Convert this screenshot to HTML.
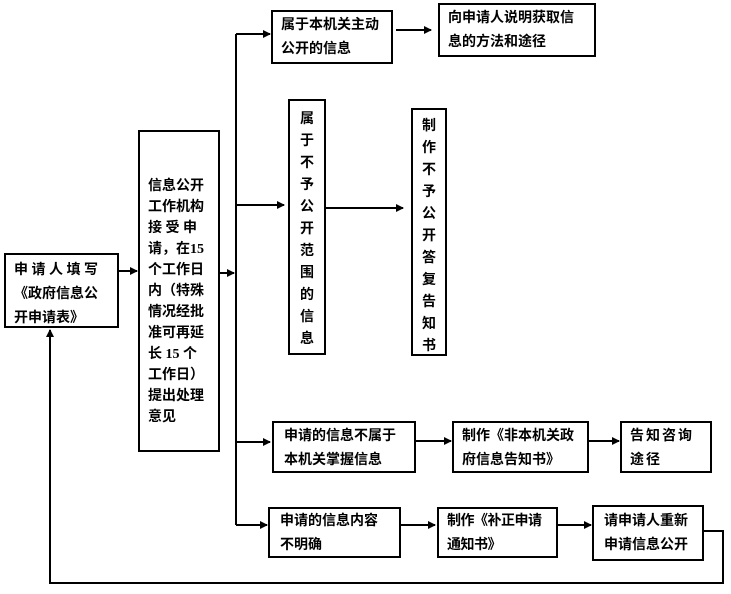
<!DOCTYPE html>
<html><head><meta charset="utf-8"><style>
body{margin:0;width:731px;height:594px;background:#fff;position:relative;overflow:hidden;font-family:"Liberation Serif","Noto Sans CJK SC",sans-serif;font-weight:700;font-size:14px;color:#000}
.b{position:absolute;border:2px solid #000;box-sizing:border-box;line-height:24px;padding:0 8px;background:#fff;white-space:nowrap}
.v{text-align:center;line-height:22px;padding:8px 0}
svg{position:absolute;left:0;top:0}
</style></head><body>
<svg width="731" height="594">
<defs><marker id="a" markerWidth="8" markerHeight="8" refX="7" refY="4" orient="auto" markerUnits="userSpaceOnUse"><path d="M0,0L8,4L0,8z" fill="#000"/></marker></defs>
<g stroke="#000" stroke-width="2" fill="none">
<line x1="118" y1="271" x2="137" y2="271" marker-end="url(#a)"/>
<line x1="219" y1="273" x2="234" y2="273" marker-end="url(#a)"/>
<line x1="236" y1="34" x2="236" y2="525"/>
<line x1="236" y1="34" x2="270" y2="34" marker-end="url(#a)"/>
<line x1="396" y1="30" x2="431" y2="30" marker-end="url(#a)"/>
<line x1="236" y1="205" x2="284" y2="205" marker-end="url(#a)"/>
<line x1="325" y1="208" x2="403" y2="208" marker-end="url(#a)"/>
<line x1="236" y1="442" x2="270" y2="442" marker-end="url(#a)"/>
<line x1="416" y1="441" x2="451" y2="441" marker-end="url(#a)"/>
<line x1="588" y1="441" x2="619" y2="441" marker-end="url(#a)"/>
<line x1="236" y1="525" x2="267" y2="525" marker-end="url(#a)"/>
<line x1="400" y1="525" x2="435" y2="525" marker-end="url(#a)"/>
<line x1="557" y1="525" x2="591" y2="525" marker-end="url(#a)"/>
<polyline points="703,531 723,531 723,583 50,583 50,330" marker-end="url(#a)"/>
</g></svg>
<div class="b" style="left:4px;top:253px;width:115px;height:75px;padding:4px 8px">申&nbsp;请&nbsp;人&nbsp;填&nbsp;写<br>《政府信息公<br>开申请表》</div>
<div class="b" style="left:138px;top:130px;width:82px;height:322px;padding:44px 4px 0 8px;line-height:21px">信息公开<br>工作机构<br>接&nbsp;受&nbsp;申<br>请，在15<br>个工作日<br>内（特殊<br>情况经批<br>准可再延<br>长&nbsp;15&nbsp;个<br>工作日）<br>提出处理<br>意见</div>
<div class="b" style="left:271px;top:10px;width:122px;height:54px;padding:2px 8px">属于本机关主动<br>公开的信息</div>
<div class="b" style="left:438px;top:3px;width:158px;height:54px;padding:2px 8px">向申请人说明获取信<br>息的方法和途径</div>
<div class="b v" style="left:288px;top:99px;width:38px;height:256px">属<br>于<br>不<br>予<br>公<br>开<br>范<br>围<br>的<br>信<br>息</div>
<div class="b v" style="left:411px;top:108px;width:36px;height:248px;padding-top:6px">制<br>作<br>不<br>予<br>公<br>开<br>答<br>复<br>告<br>知<br>书</div>
<div class="b" style="left:272px;top:421px;width:144px;height:52px;padding:2px 10px">申请的信息不属于<br>本机关掌握信息</div>
<div class="b" style="left:452px;top:421px;width:137px;height:52px;padding:2px 8px">制作《非本机关政<br>府信息告知书》</div>
<div class="b" style="left:620px;top:421px;width:92px;height:52px;padding:2px 8px;letter-spacing:2px">告知咨询<br>途径</div>
<div class="b" style="left:268px;top:507px;width:133px;height:51px;padding:1px 10px">申请的信息内容<br>不明确</div>
<div class="b" style="left:437px;top:507px;width:121px;height:51px;padding:1px 8px;letter-spacing:-0.5px">制作《补正申请<br>通知书》</div>
<div class="b" style="left:592px;top:505px;width:112px;height:56px;padding:3px 10px">请申请人重新<br>申请信息公开</div>
</body></html>
